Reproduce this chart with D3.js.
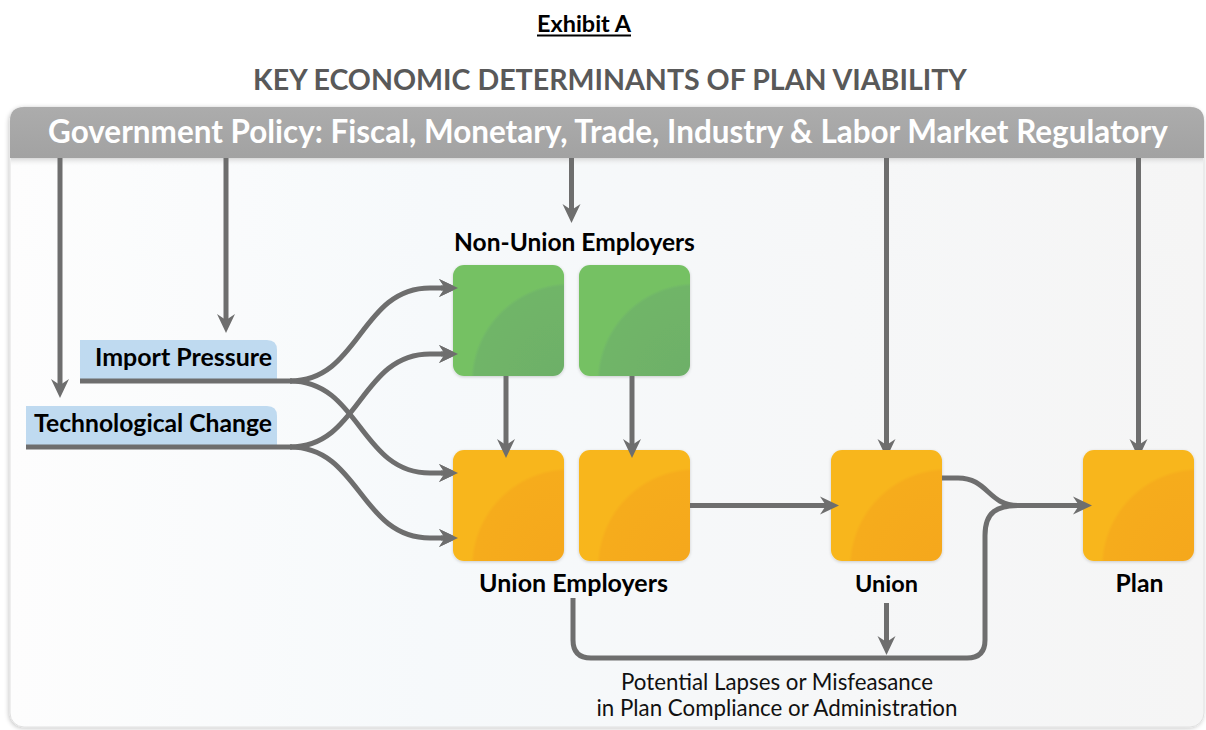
<!DOCTYPE html>
<html lang="en">
<head>
  <meta charset="UTF-8">
  <title>Exhibit A - Key Economic Determinants of Plan Viability</title>
  <script src="https://d3js.org/d3.v7.min.js"></script>
  <style>
    body {
      margin: 0;
      padding: 0;
      background: #ffffff;
      font-family: Lato, "Open Sans", sans-serif;
    }
    .pipe {
      fill: none;
      stroke: #6e6e6e;
      stroke-width: 5;
    }
    .bold-label {
      font-weight: bold;
      fill: #000;
    }
  </style>
</head>
<body>
  <script>
    // ---- diagram content ----
    const exhibitTitle = "Exhibit A";
    const chartTitle = "KEY ECONOMIC DETERMINANTS OF PLAN VIABILITY";
    const policyText = "Government Policy: Fiscal, Monetary, Trade, Industry & Labor Market Regulatory";
    const driverLabels = ["Import Pressure", "Technological Change"];
    const boxIds = ["nu1", "nu2", "ue1", "ue2", "union", "plan"];
    const boxCols = [0, 1, 0, 1, 3, 5];
    const boxRows = [0, 0, 1, 1, 1, 1];
    const boxKinds = ["green", "green", "orange", "orange", "orange", "orange"];
    const groupLabels = ["Non-Union Employers", "Union Employers", "Union", "Plan"];
    const footnoteLines = ["Potential Lapses or Misfeasance", "in Plan Compliance or Administration"];

    const W = 1206, H = 730;
    const svg = d3.select("body").append("svg")
      .attr("width", W).attr("height", H);

    const col = d3.scaleLinear().domain([0, 5]).range([453, 1083]);
    const row = d3.scaleLinear().domain([0, 1]).range([265, 450]);
    const boxSize = 111;

    const boxes = boxIds.map((id, i) => ({
      id, kind: boxKinds[i],
      x: col(boxCols[i]), y: row(boxRows[i])
    }));
    const B = Object.fromEntries(boxes.map(b => [b.id, b]));
    const cx = b => b.x + boxSize / 2;
    const cy = b => b.y + boxSize / 2;

    // size text by cap height, then squeeze it to the width seen in the picture
    function fit(sel, width, size) {
      sel.style("font-size", size + "px");
      const len = sel.node().getComputedTextLength();
      if (len > width) {
        sel.attr("textLength", width).attr("lengthAdjust", "spacingAndGlyphs");
      } else {
        sel.style("font-size", (size * width / len).toFixed(2) + "px");
      }
      return sel;
    }

    const defs = svg.append("defs");

    const bg = defs.append("linearGradient").attr("id", "bg")
      .attr("x1", 0).attr("x2", 1).attr("y1", 0).attr("y2", 0);
    bg.append("stop").attr("offset", "0%").attr("stop-color", "#fdfdfd");
    bg.append("stop").attr("offset", "35%").attr("stop-color", "#f6f9fb");
    bg.append("stop").attr("offset", "70%").attr("stop-color", "#f6f7f8");
    bg.append("stop").attr("offset", "100%").attr("stop-color", "#f5f5f5");

    const barG = defs.append("linearGradient").attr("id", "bar")
      .attr("x1", 0).attr("x2", 0).attr("y1", 0).attr("y2", 1);
    barG.append("stop").attr("offset", "0%").attr("stop-color", "#acacac");
    barG.append("stop").attr("offset", "100%").attr("stop-color", "#a2a2a2");

    const shadeG = defs.append("linearGradient").attr("id", "shade")
      .attr("x1", 0).attr("x2", 0).attr("y1", 0).attr("y2", 1);
    shadeG.append("stop").attr("offset", "0%").attr("stop-color", "#d8d8d8");
    shadeG.append("stop").attr("offset", "100%").attr("stop-color", "#f6f7f8").attr("stop-opacity", 0);

    const fills = {
      green: ["#75c164", "#70b568", "#6daf67"],
      orange: ["#f8b61b", "#f6ac1c", "#f5a71c"]
    };
    Object.entries(fills).forEach(([k, c]) => {
      const g = defs.append("radialGradient").attr("id", "fill-" + k)
        .attr("cx", 1.05).attr("cy", 1.05).attr("r", 1.0).attr("fx", 1.05).attr("fy", 1.05);
      g.append("stop").attr("offset", "0%").attr("stop-color", c[2]);
      g.append("stop").attr("offset", "86%").attr("stop-color", c[1]);
      g.append("stop").attr("offset", "89%").attr("stop-color", c[0]);
      g.append("stop").attr("offset", "100%").attr("stop-color", c[0]);
    });

    const sh = defs.append("filter").attr("id", "soft")
      .attr("x", "-10%").attr("y", "-10%").attr("width", "120%").attr("height", "120%");
    sh.append("feDropShadow").attr("dx", 0).attr("dy", 1).attr("stdDeviation", 1.5)
      .attr("flood-color", "#000").attr("flood-opacity", 0.18);

    const frameSh = defs.append("filter").attr("id", "frame-sh")
      .attr("x", "-5%").attr("y", "-5%").attr("width", "110%").attr("height", "110%");
    frameSh.append("feDropShadow").attr("dx", -1).attr("dy", 1).attr("stdDeviation", 2)
      .attr("flood-color", "#000").attr("flood-opacity", 0.22);

    defs.append("marker").attr("id", "head")
      .attr("viewBox", "-20 -10 22 20")
      .attr("refX", -10).attr("refY", 0)
      .attr("markerWidth", 22).attr("markerHeight", 20)
      .attr("markerUnits", "userSpaceOnUse")
      .attr("orient", "auto")
      .append("path")
      .attr("d", "M0,0 L-19,-9 L-13,0 L-19,9 Z")
      .attr("fill", "#6e6e6e");

    // ---- titles ----
    const ex = svg.append("text").attr("x", 584).attr("y", 32)
      .attr("text-anchor", "middle").attr("class", "bold-label")
      .text(exhibitTitle);
    fit(ex, 94, 23);
    svg.append("line").attr("x1", 537).attr("x2", 631)
      .attr("y1", 35.5).attr("y2", 35.5).attr("stroke", "#000").attr("stroke-width", 1.8);

    const kt = svg.append("text").attr("x", 610).attr("y", 90)
      .attr("text-anchor", "middle").attr("font-weight", "bold")
      .attr("fill", "#595959").text(chartTitle);
    fit(kt, 714, 28);

    // ---- frame ----
    svg.append("rect").attr("x", 10).attr("y", 107).attr("width", 1194).attr("height", 620)
      .attr("rx", 14).attr("fill", "url(#bg)").attr("stroke", "#e0e0e0")
      .attr("filter", "url(#frame-sh)");

    const r = 14;
    svg.append("path")
      .attr("d", `M10,158 L10,${107 + r} Q10,107 ${10 + r},107 L${1204 - r},107 Q1204,107 1204,${107 + r} L1204,158 Z`)
      .attr("fill", "url(#bar)");
    svg.append("rect").attr("x", 11).attr("y", 158).attr("width", 1192).attr("height", 8)
      .attr("fill", "url(#shade)");

    const pt = svg.append("text").attr("x", 608).attr("y", 143)
      .attr("text-anchor", "middle").attr("font-weight", "bold")
      .attr("fill", "#ffffff").text(policyText);
    fit(pt, 1120, 29);

    // ---- driver label tabs ----
    const tabs = [
      { text: driverLabels[0], x0: 80, y: 381 },
      { text: driverLabels[1], x0: 26, y: 447 }
    ];
    const tabH = 41, tabRight = 277, junctionX = 290;
    tabs.forEach((t, i) => {
      svg.append("path")
        .attr("d", `M${t.x0},${t.y} L${t.x0},${t.y - tabH} L${tabRight - 10},${t.y - tabH} Q${tabRight},${t.y - tabH} ${tabRight},${t.y - tabH + 10} L${tabRight},${t.y} Z`)
        .attr("fill", "#bfdaf0");
      const tx = svg.append("text").attr("x", 272).attr("y", t.y - 15)
        .attr("text-anchor", "end").attr("class", "bold-label").text(t.text);
      fit(tx, i === 0 ? 177 : 238, 22);
    });

    const pipes = svg.append("g");

    // curved fan-out from each driver to employer boxes
    const link = d3.linkHorizontal();
    const targets = [
      [B.nu1.y + 23, B.ue1.y + 23],
      [B.nu1.y + 89, B.ue1.y + 88]
    ];
    tabs.forEach((t, i) => {
      pipes.append("line").attr("class", "pipe")
        .attr("x1", t.x0).attr("x2", junctionX + 2).attr("y1", t.y).attr("y2", t.y);
      targets[i].forEach(ty => {
        const curve = link({ source: [junctionX, t.y], target: [430, ty] });
        pipes.append("path").attr("class", "pipe")
          .attr("d", curve + ` L${B.nu1.x - 5},${ty}`)
          .attr("marker-end", "url(#head)");
      });
    });

    // vertical arrows down from the policy bar
    const barBottom = 158;
    const drops = [
      [60, 398], [226, 333],
      [(B.nu1.x + B.nu2.x + boxSize) / 2, 223],
      [cx(B.union), B.union.y + 8], [cx(B.plan), B.plan.y + 8]
    ];
    drops.forEach(([x, tip]) => {
      pipes.append("line").attr("class", "pipe")
        .attr("x1", x).attr("x2", x).attr("y1", barBottom).attr("y2", tip - 10)
        .attr("marker-end", "url(#head)");
    });

    // ---- boxes ----
    svg.append("g").selectAll("rect").data(boxes).join("rect")
      .attr("x", d => d.x).attr("y", d => d.y)
      .attr("width", boxSize).attr("height", boxSize)
      .attr("rx", 11)
      .attr("fill", d => `url(#fill-${d.kind})`)
      .attr("filter", "url(#soft)");

    const over = svg.append("g");

    // green -> orange
    [["nu1", "ue1"], ["nu2", "ue2"]].forEach(([a, b]) => {
      const x = B[a].x + 53;
      over.append("line").attr("class", "pipe")
        .attr("x1", x).attr("x2", x).attr("y1", B[a].y + boxSize).attr("y2", B[b].y + 8 - 10)
        .attr("marker-end", "url(#head)");
    });
    // arrow tips into employer boxes drawn above the boxes
    targets.flat().forEach(ty => {
      over.append("line").attr("class", "pipe")
        .attr("x1", B.nu1.x - 12).attr("x2", B.nu1.x - 5).attr("y1", ty).attr("y2", ty)
        .attr("marker-end", "url(#head)");
    });
    // union employers -> union
    const midY = cy(B.union);
    over.append("line").attr("class", "pipe")
      .attr("x1", B.ue2.x + boxSize).attr("x2", B.union.x + 8 - 10)
      .attr("y1", midY).attr("y2", midY)
      .attr("marker-end", "url(#head)");

    // union -> plan (merging with the lapses loop)
    const jx = 1018;
    const ux = B.union.x + boxSize;
    over.append("path").attr("class", "pipe")
      .attr("d", `M${ux},478 L${ux + 16},478 C${ux + 46},478 ${jx - 30},${midY} ${jx},${midY} L${B.plan.x - 1},${midY}`)
      .attr("marker-end", "url(#head)");

    // lapses loop from union employers to plan
    const loopY = 658, lx = 573, rx = 985, cr = 18;
    over.append("path").attr("class", "pipe")
      .attr("d", `M${lx},598 L${lx},${loopY - cr} Q${lx},${loopY} ${lx + cr},${loopY} L${rx - cr},${loopY} Q${rx},${loopY} ${rx},${loopY - cr} L${rx},${midY + 30} C${rx},${midY + 6} ${rx + 12},${midY} ${jx + 2},${midY}`);

    // union -> lapses
    over.append("line").attr("class", "pipe")
      .attr("x1", cx(B.union)).attr("x2", cx(B.union)).attr("y1", 603).attr("y2", loopY - 3 - 10)
      .attr("marker-end", "url(#head)");

    // ---- group labels ----
    const glabels = [
      { t: groupLabels[0], x: (B.nu1.x + B.nu2.x + boxSize) / 2 + 3, y: 251, w: 241 },
      { t: groupLabels[1], x: (B.ue1.x + B.ue2.x + boxSize) / 2 + 2, y: 592, w: 189 },
      { t: groupLabels[2], x: cx(B.union), y: 592, w: 63 },
      { t: groupLabels[3], x: cx(B.plan) + 1, y: 592, w: 48 }
    ];
    glabels.forEach(g => {
      const t = svg.append("text").attr("x", g.x).attr("y", g.y)
        .attr("text-anchor", "middle").attr("class", "bold-label").text(g.t);
      fit(t, g.w, 23);
    });

    footnoteLines.forEach((line, i) => {
      const t = svg.append("text").attr("x", 777).attr("y", 690 + i * 26)
        .attr("text-anchor", "middle").attr("fill", "#111").text(line);
      fit(t, i === 0 ? 312 : 361, 21);
    });
  </script>
</body>
</html>
